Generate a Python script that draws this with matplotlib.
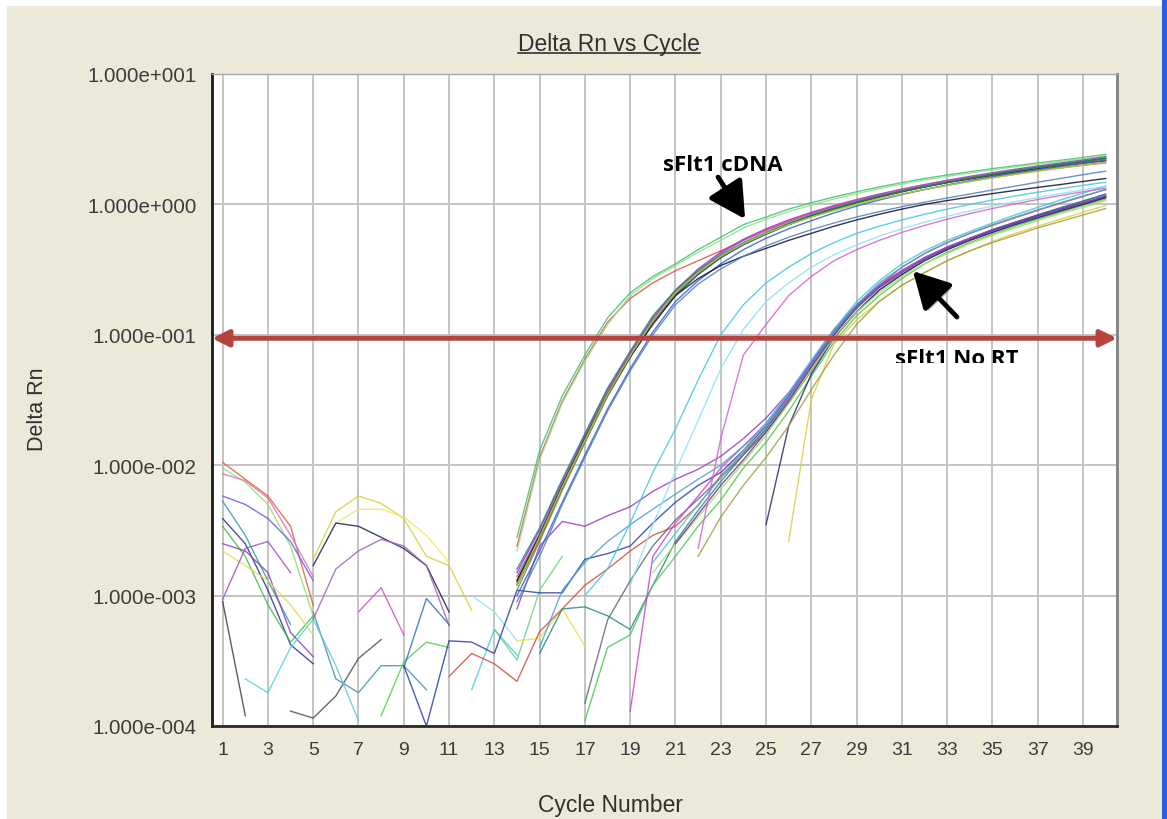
import numpy as np
import matplotlib
matplotlib.use("Agg")
import matplotlib.pyplot as plt
from matplotlib.patches import Rectangle
from matplotlib.lines import Line2D
from matplotlib.ticker import FixedLocator, FixedFormatter, NullLocator
from matplotlib.transforms import Bbox, TransformedBbox
import matplotlib.patheffects as pe

cycles = np.arange(1, 41)

xticks = list(range(1, 40, 2))
ytick_values = [1e-4, 1e-3, 1e-2, 1e-1, 1e0, 1e1]
ytick_labels = ['1.000e-004', '1.000e-003', '1.000e-002',
                '1.000e-001', '1.000e+000', '1.000e+001']
threshold = 0.094

# baseline noise, cycles 1-15: (first cycle, values)
baseline_start = [1, 1, 1, 1, 1, 1, 1, 1, 1, 1, 1, 2, 4, 5, 5, 7, 8, 5, 6, 5, 5, 12, 12, 9, 13, 14]
baseline_vals = [
    [1.05e-2, 7.8e-3, 5.8e-3, 3.4e-3, 8.4e-4],
    [9.5e-3, 7.4e-3, 5.0e-3, 2.4e-3, 7.0e-4],
    [8.6e-3, 7.6e-3, 5.6e-3, 2.9e-3, 1.4e-3],
    [5.8e-3, 5.0e-3, 3.9e-3, 2.6e-3, 1.3e-3],
    [5.3e-3, 2.9e-3, 1.3e-3, 6.0e-4],
    [3.9e-3, 2.5e-3, 1.1e-3, 4.2e-4, 3.0e-4],
    [3.4e-3, 2.0e-3, 8.5e-4, 4.4e-4, 7.0e-4],
    [2.5e-3, 2.2e-3, 1.5e-3, 5.2e-4, 3.4e-4],
    [2.2e-3, 1.7e-3, 1.3e-3, 8.5e-4, 5.0e-4],
    [9.0e-4, 1.2e-4],
    [9.4e-4, 2.3e-3, 2.6e-3, 1.5e-3],
    [2.3e-4, 1.8e-4, 4.0e-4, 6.6e-4],
    [1.3e-4, 1.15e-4, 1.7e-4, 3.3e-4, 4.6e-4],
    [7.5e-4, 2.3e-4, 1.8e-4, 2.9e-4, 2.9e-4, 1.9e-4],
    [6.6e-4, 2.9e-4, 1.1e-4],
    [7.5e-4, 1.15e-3, 5.0e-4],
    [1.2e-4, 3.1e-4, 4.4e-4, 4.0e-4],
    [1.9e-3, 4.4e-3, 5.8e-3, 5.1e-3, 3.9e-3, 2.0e-3, 1.7e-3, 7.7e-4],
    [3.6e-3, 4.6e-3, 4.6e-3, 4.0e-3, 2.9e-3, 1.8e-3],
    [1.7e-3, 3.6e-3, 3.4e-3, 2.8e-3, 2.3e-3, 1.7e-3, 7.5e-4],
    [6.6e-4, 1.6e-3, 2.2e-3, 2.7e-3, 2.4e-3, 1.7e-3, 5.9e-4],
    [1.9e-4, 5.5e-4, 3.5e-4],
    [1.0e-3, 7.5e-4, 4.5e-4],
    [2.8e-4, 9.5e-4, 6.0e-4],
    [5.5e-4, 3.2e-4, 1.1e-3, 2.0e-3],
    [4.5e-4, 4.7e-4, 7.9e-4, 4.1e-4],
]
baseline_colors = ['#e06040', '#90e070', '#e070c0', '#6060e0', '#30a0a0', '#303090',
                   '#40c040', '#9040c0', '#e0e050', '#404040', '#a050d0', '#50d8e0',
                   '#505050', '#4a90b0', '#60c8d8', '#d050d0', '#50d050', '#d8d040',
                   '#f0e860', '#202050', '#a060c0', '#40d0e0', '#90e0f0', '#3070c0',
                   '#70d080', '#f0e040']

# sFlt1 No RT wells
nort_start = [14, 9, 11, 15, 17, 17, 19, 25, 26, 15, 20, 21, 20, 22]
nort_vals = [
    [7.9e-4, 2.4e-3, 3.7e-3, 3.4e-3, 4.1e-3, 4.8e-3, 6.3e-3, 7.8e-3, 9.3e-3, 1.17e-2,
     1.6e-2, 2.3e-2, 3.6e-2, 6.2e-2, 0.11, 0.17, 0.24, 0.31, 0.39, 0.47, 0.55, 0.63,
     0.72, 0.81, 0.91, 1.02, 1.14],
    [2.9e-4, 1.0e-4, 4.5e-4, 4.4e-4, 3.6e-4, 1.1e-3, 1.05e-3, 1.05e-3, 1.9e-3, 2.1e-3,
     2.4e-3, 3.6e-3, 5.2e-3, 7.0e-3, 8.8e-3, 1.3e-2, 2.0e-2, 3.4e-2, 6.0e-2, 0.105,
     0.165, 0.235, 0.31, 0.39, 0.47, 0.55, 0.64, 0.73, 0.83, 0.94, 1.06, 1.2],
    [2.4e-4, 3.6e-4, 3.0e-4, 2.2e-4, 5.3e-4, 7.9e-4, 1.2e-3, 1.6e-3, 2.2e-3, 2.9e-3,
     3.4e-3, 4.9e-3, 8.3e-3, 1.25e-2, 1.9e-2, 3.2e-2, 5.6e-2, 0.1, 0.165, 0.24, 0.33,
     0.42, 0.51, 0.6, 0.69, 0.79, 0.9, 1.02, 1.15, 1.3],
    [3.6e-4, 7.9e-4, 8.2e-4, 7.0e-4, 5.5e-4, 1.2e-3, 2.6e-3, 4.5e-3, 7.5e-3, 1.2e-2,
     1.9e-2, 3.3e-2, 5.9e-2, 0.105, 0.165, 0.235, 0.31, 0.39, 0.47, 0.55, 0.64, 0.73,
     0.83, 0.94, 1.06, 1.19],
    [1.5e-4, 6.5e-4, 1.3e-3, 2.4e-3, 3.8e-3, 5.5e-3, 8.0e-3, 1.2e-2, 1.8e-2, 3.0e-2,
     5.3e-2, 0.095, 0.15, 0.22, 0.29, 0.37, 0.45, 0.53, 0.61, 0.7, 0.79, 0.89, 1.0, 1.12],
    [1.1e-4, 4.0e-4, 5.0e-4, 1.2e-3, 2.0e-3, 3.4e-3, 5.4e-3, 9.5e-3, 1.5e-2, 2.6e-2,
     4.8e-2, 0.088, 0.14, 0.2, 0.27, 0.35, 0.43, 0.51, 0.59, 0.68, 0.77, 0.87, 0.98, 1.1],
    [1.3e-4, 2.0e-3, 3.6e-3, 5.8e-3, 9.5e-3, 1.4e-2, 2.1e-2, 3.5e-2, 6.2e-2, 0.11,
     0.17, 0.24, 0.31, 0.39, 0.47, 0.55, 0.63, 0.72, 0.81, 0.91, 1.02, 1.15],
    [3.5e-3, 2.0e-2, 5.0e-2, 0.095, 0.15, 0.22, 0.29, 0.37, 0.45, 0.53, 0.61, 0.7,
     0.79, 0.89, 1.0, 1.13],
    [2.6e-3, 3.2e-2, 8.5e-2, 0.13, 0.18, 0.24, 0.3, 0.37, 0.44, 0.52, 0.6, 0.68,
     0.77, 0.87, 0.98],
    [4.0e-4, 1.1e-3, 1.8e-3, 2.6e-3, 3.5e-3, 4.6e-3, 6.0e-3, 7.8e-3, 1.0e-2, 1.4e-2,
     2.0e-2, 3.3e-2, 5.9e-2, 0.105, 0.17, 0.25, 0.33, 0.42, 0.51, 0.6, 0.7, 0.8,
     0.91, 1.03, 1.16, 1.3],
    [1.5e-3, 2.5e-3, 4.0e-3, 6.5e-3, 1.05e-2, 1.7e-2, 3.0e-2, 5.4e-2, 0.096, 0.15,
     0.21, 0.28, 0.35, 0.42, 0.5, 0.58, 0.66, 0.75, 0.85, 0.95, 1.07],
    [2.5e-3, 4.2e-3, 7.0e-3, 1.1e-2, 1.8e-2, 3.1e-2, 5.7e-2, 0.1, 0.16, 0.23, 0.3,
     0.38, 0.46, 0.54, 0.63, 0.72, 0.82, 0.92, 1.03, 1.16],
    [1.8e-3, 3.0e-3, 5.0e-3, 8.0e-3, 1.3e-2, 2.1e-2, 3.6e-2, 6.4e-2, 0.11, 0.18, 0.26,
     0.35, 0.44, 0.53, 0.62, 0.72, 0.83, 0.95, 1.08, 1.22, 1.38],
    [2.0e-3, 4.0e-3, 7.0e-3, 1.15e-2, 2.0e-2, 3.8e-2, 7.0e-2, 0.12, 0.18, 0.24, 0.3,
     0.37, 0.44, 0.51, 0.58, 0.66, 0.74, 0.83, 0.93],
]
nort_colors = ['#9a3cc0', '#2a40b0', '#d84a40', '#2a8a88', '#606878', '#50c850',
               '#d040d0', '#282870', '#d8d040', '#4aa0d8', '#a0e060', '#7030a0',
               '#40c8d8', '#a0a040']

# wells that come up between the two groups
mid_start = [17, 19, 22]
mid_vals = [
    [1.0e-3, 1.6e-3, 3.6e-3, 8.8e-3, 1.9e-2, 4.5e-2, 0.1, 0.17, 0.25, 0.33, 0.42, 0.51,
     0.6, 0.68, 0.76, 0.84, 0.92, 1.0, 1.08, 1.16, 1.24, 1.32, 1.4, 1.48],
    [1.2e-3, 3.5e-3, 9e-3, 2.2e-2, 5.5e-2, 0.11, 0.18, 0.25, 0.33, 0.41, 0.49, 0.57,
     0.65, 0.73, 0.81, 0.89, 0.97, 1.05, 1.13, 1.21, 1.29, 1.38],
    [2.3e-3, 1.6e-2, 0.07, 0.12, 0.2, 0.28, 0.37, 0.45, 0.53, 0.61, 0.69, 0.77, 0.85,
     0.93, 1.01, 1.09, 1.17, 1.25, 1.33],
]
mid_colors = ['#40c8e0', '#90e0f0', '#d860d0']

# sFlt1 cDNA wells, all from cycle 14
cdna_start = 14
cdna_vals = [
    [2.8e-3, 1.3e-2, 3.4e-2, 7.0e-2, 0.135, 0.21, 0.28, 0.35, 0.45, 0.56, 0.70, 0.80,
     0.92, 1.03, 1.14, 1.25, 1.36, 1.47, 1.58, 1.68, 1.78, 1.88, 1.98, 2.08, 2.18, 2.29, 2.42],
    [2.4e-3, 1.15e-2, 3.1e-2, 6.5e-2, 0.125, 0.19, 0.25, 0.31, 0.37, 0.44, 0.53, 0.63,
     0.74, 0.85, 0.96, 1.07, 1.17, 1.27, 1.37, 1.47, 1.56, 1.65, 1.74, 1.83, 1.92, 2.0, 2.08],
    [2.2e-3, 1.1e-2, 3.0e-2, 6.3e-2, 0.12, 0.2, 0.27, 0.34, 0.43, 0.53, 0.66, 0.77,
     0.88, 0.99, 1.1, 1.21, 1.32, 1.43, 1.54, 1.64, 1.74, 1.84, 1.94, 2.04, 2.14, 2.24, 2.36],
    [1.3e-3, 2.9e-3, 7.0e-3, 1.6e-2, 3.6e-2, 7.0e-2, 0.13, 0.21, 0.30, 0.40, 0.50, 0.60,
     0.71, 0.82, 0.93, 1.04, 1.15, 1.26, 1.37, 1.48, 1.58, 1.68, 1.78, 1.88, 1.98, 2.07, 2.16],
    [1.2e-3, 2.7e-3, 6.6e-3, 1.5e-2, 3.4e-2, 6.7e-2, 0.125, 0.2, 0.29, 0.39, 0.49, 0.59,
     0.70, 0.81, 0.92, 1.03, 1.14, 1.25, 1.36, 1.47, 1.58, 1.69, 1.8, 1.91, 2.02, 2.13, 2.25],
    [1.5e-3, 3.2e-3, 7.5e-3, 1.7e-2, 3.8e-2, 7.3e-2, 0.135, 0.22, 0.32, 0.43, 0.54, 0.65,
     0.76, 0.87, 0.98, 1.09, 1.2, 1.31, 1.42, 1.53, 1.64, 1.75, 1.86, 1.97, 2.08, 2.19, 2.32],
    [1.4e-3, 3.0e-3, 7.2e-3, 1.65e-2, 3.7e-2, 7.1e-2, 0.13, 0.215, 0.31, 0.42, 0.53, 0.64,
     0.75, 0.86, 0.97, 1.08, 1.19, 1.3, 1.41, 1.52, 1.62, 1.72, 1.82, 1.92, 2.02, 2.12, 2.22],
    [1.1e-3, 2.6e-3, 6.4e-3, 1.5e-2, 3.4e-2, 6.8e-2, 0.125, 0.205, 0.3, 0.4, 0.5, 0.6,
     0.7, 0.8, 0.9, 1.0, 1.1, 1.2, 1.3, 1.4, 1.5, 1.6, 1.7, 1.8, 1.9, 2.0, 2.1],
    [1.0e-3, 2.2e-3, 5.2e-3, 1.2e-2, 2.7e-2, 5.5e-2, 0.105, 0.18, 0.26, 0.35, 0.45, 0.55,
     0.65, 0.75, 0.86, 0.97, 1.08, 1.19, 1.3, 1.41, 1.52, 1.63, 1.74, 1.85, 1.96, 2.07, 2.18],
    [1.3e-3, 2.9e-3, 7.0e-3, 1.6e-2, 3.5e-2, 6.8e-2, 0.12, 0.2, 0.27, 0.34, 0.4, 0.46,
     0.53, 0.6, 0.68, 0.76, 0.84, 0.92, 1.0, 1.07, 1.14, 1.21, 1.28, 1.35, 1.42, 1.5, 1.58],
    [1.6e-3, 3.3e-3, 7.8e-3, 1.75e-2, 3.9e-2, 7.5e-2, 0.14, 0.22, 0.31, 0.41, 0.51, 0.61,
     0.72, 0.83, 0.94, 1.05, 1.16, 1.27, 1.38, 1.49, 1.6, 1.71, 1.82, 1.93, 2.04, 2.15, 2.26],
    [9e-4, 2.0e-3, 5.0e-3, 1.15e-2, 2.6e-2, 5.3e-2, 0.1, 0.17, 0.245, 0.32, 0.4, 0.48,
     0.56, 0.64, 0.72, 0.8, 0.88, 0.96, 1.04, 1.12, 1.2, 1.29, 1.38, 1.48, 1.58, 1.69, 1.8],
    [1.25e-3, 2.85e-3, 6.9e-3, 1.58e-2, 3.55e-2, 6.9e-2, 0.128, 0.205, 0.295, 0.395, 0.495,
     0.595, 0.7, 0.81, 0.92, 1.03, 1.14, 1.25, 1.36, 1.47, 1.58, 1.69, 1.8, 1.91, 2.02, 2.13, 2.26],
    [1.2e-3, 2.8e-3, 6.8e-3, 1.55e-2, 3.5e-2, 6.9e-2, 0.128, 0.21, 0.3, 0.4, 0.5, 0.6,
     0.7, 0.8, 0.9, 1.0, 1.1, 1.2, 1.3, 1.4, 1.5, 1.6, 1.7, 1.8, 1.9, 2.0, 2.1],
]
cdna_colors = ['#3cc46a', '#e0504a', '#8ee08a', '#1a1a1a', '#202070', '#8a3cb0',
               '#d040c8', '#8a8a30', '#3060d0', '#101030', '#208888', '#5080c0',
               '#2e7d32', '#b5d040']


def well_trace(start, vals):
    y = np.full(len(cycles), np.nan)
    y[start - 1:start - 1 + len(vals)] = vals
    return y


fig = plt.figure(figsize=(11.67, 8.2), dpi=100, facecolor='#ece9d8')
W, H = 1167, 820

# window chrome around the plot
fig.patches.append(Rectangle((0, 1 - 7 / H), 1, 7 / H, transform=fig.transFigure,
                             facecolor='white', edgecolor='none'))
fig.patches.append(Rectangle((0, 0), 7 / W, 1, transform=fig.transFigure,
                             facecolor='white', edgecolor='none'))
fig.patches.append(Rectangle((1162 / W, 0), 5 / W, 1, transform=fig.transFigure,
                             facecolor='#2a60d8', edgecolor='none'))

ax = fig.add_axes([212 / W, 1 - 727 / H, 905 / W, 652 / H])
ax.set_facecolor('white')
ax.set_yscale('log')
ax.set_xlim(0.53, 40.5)
ax.set_ylim(1e-4, 10)

for s, v, c in zip(baseline_start, baseline_vals, baseline_colors):
    ax.plot(cycles, well_trace(s, v), color=c, lw=1.0, alpha=0.85)
for s, v, c in zip(nort_start, nort_vals, nort_colors):
    ax.plot(cycles, well_trace(s, v), color=c, lw=1.0, alpha=0.85)
for s, v, c in zip(mid_start, mid_vals, mid_colors):
    ax.plot(cycles, well_trace(s, v), color=c, lw=1.0, alpha=0.85)
for v, c in zip(cdna_vals, cdna_colors):
    ax.plot(cycles, well_trace(cdna_start, v), color=c, lw=1.0, alpha=0.85)

# grid / ticks
ax.xaxis.set_major_locator(FixedLocator(xticks))
ax.yaxis.set_major_locator(FixedLocator(ytick_values))
ax.yaxis.set_major_formatter(FixedFormatter(ytick_labels))
ax.yaxis.set_minor_locator(NullLocator())
ax.grid(True, which='major', color='#c4c4c4', lw=1.4)
ax.set_axisbelow(True)
ax.tick_params(length=0, labelcolor='#3c3c3c')
ax.tick_params(axis='x', pad=11, labelsize=14)
ax.tick_params(axis='y', pad=11, labelsize=14.8)
for lab in ax.get_xticklabels() + ax.get_yticklabels():
    lab.set_fontfamily('Liberation Sans')

ax.spines['left'].set_color('#1a1a1a')
ax.spines['left'].set_linewidth(2)
ax.spines['bottom'].set_color('#2a2a2a')
ax.spines['bottom'].set_linewidth(2)
ax.spines['top'].set_color('#a8a8a8')
ax.spines['top'].set_linewidth(1)
ax.spines['right'].set_color('#808080')
ax.spines['right'].set_linewidth(2)

# threshold line
ax.annotate('', xy=(1.0, threshold), xytext=(0.0, threshold),
            xycoords=('axes fraction', 'data'), textcoords=('axes fraction', 'data'),
            arrowprops=dict(arrowstyle='<|-|>,head_length=0.7,head_width=0.35',
                            color='#b5443e', lw=3.5, mutation_scale=14,
                            shrinkA=0, shrinkB=0))

# labels
title = fig.text(609 / W, 1 - 51 / H, 'Delta Rn vs Cycle', ha='center', va='baseline',
                 fontsize=16.5, color='#303030', family='Liberation Sans')
fig.text(610 / W, 1 - 812 / H, 'Cycle Number', ha='center', va='baseline',
         fontsize=16.5, color='#303030', family='Liberation Sans')
fig.text(37 / W, 1 - 409 / H, 'Delta Rn', ha='center', va='center', rotation=90,
         fontsize=15.5, color='#303030', family='Liberation Sans')

fig.canvas.draw()
bb = title.get_window_extent()
fig.add_artist(Line2D([bb.x0 / W, bb.x1 / W], [1 - 53.5 / H, 1 - 53.5 / H],
                      transform=fig.transFigure, color='#303030', lw=1.2))

shadow = [pe.withSimplePatchShadow(offset=(2, -2), alpha=0.25)]
arrow_kw = dict(arrowstyle='-|>,head_length=1.1,head_width=0.6', color='black',
                lw=3.5, mutation_scale=20, shrinkA=0, shrinkB=0)

ax.text(23.1, 2.04, 'sFlt1 cDNA', ha='center', va='center', fontsize=16,
        fontweight='bold', family='Open Sans', color='black')
a1 = ax.annotate('', xy=(24.07, 0.773), xytext=(22.88, 1.62), arrowprops=arrow_kw)
a1.arrow_patch.set_path_effects(shadow)

# the lower label is cut off just under its letters
no_rt = ax.text(33.41, 0.0597, 'sFlt1 No RT', ha='center', va='baseline', fontsize=16,
                fontweight='bold', family='Open Sans', color='black')
no_rt.set_clip_box(TransformedBbox(Bbox.from_extents(0, 0.0612, 50, 100), ax.transData))
no_rt.set_clip_on(True)
a2 = ax.annotate('', xy=(31.49, 0.308), xytext=(33.43, 0.137), arrowprops=arrow_kw)
a2.arrow_patch.set_path_effects(shadow)

fig.savefig('out.png', dpi=100, facecolor=fig.get_facecolor())
